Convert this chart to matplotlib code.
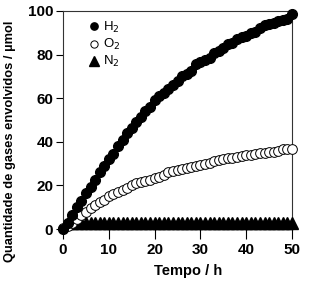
import matplotlib
matplotlib.use('Agg')
from matplotlib import pyplot as plt

plt.rcParams['font.family'] = ['Liberation Sans', 'DejaVu Sans']

# tempo (h)
t = list(range(0, 51))

h2 = [0, 3, 6.5, 10, 13, 16.5, 19.5, 22.5, 26, 29,
      32, 34.5, 38, 41, 44, 46.5, 49, 51.5, 54, 56,
      59, 61, 62.5, 64, 66, 68, 70, 71, 72.5, 75.5,
      76.5, 77.5, 78.5, 80.5, 81.5, 83, 85, 85.5, 87, 88,
      88.5, 90, 90.5, 92, 93.5, 94, 94.5, 95.5, 96, 96.5,
      98.5]

o2 = [0.5, 1.5, 3, 4.5, 6.5, 8, 9.5, 11, 12.5, 13.5,
      15, 16, 17, 18, 19, 20, 21, 21.5, 22, 22.5,
      23.5, 24, 25, 26, 26.5, 27, 27.5, 28, 28.5, 29,
      29.5, 30, 30.5, 31, 31.5, 32, 32.5, 32.5, 33, 33.5,
      34, 34, 34.5, 35, 35, 35.5, 35.5, 36, 36.5, 36.5,
      36.5]

t_n2 = list(range(1, 51))
n2 = [2.8, 2.8, 2.7, 2.8, 2.8, 2.7, 2.8, 2.8, 2.8, 2.7,
      2.8, 2.8, 2.8, 2.7, 2.8, 2.8, 2.8, 2.8, 2.7, 2.8,
      2.8, 2.8, 2.7, 2.8, 2.8, 2.8, 2.8, 2.7, 2.8, 2.8,
      2.8, 2.7, 2.8, 2.8, 2.8, 2.8, 2.7, 2.8, 2.8, 2.8,
      2.7, 2.8, 2.8, 2.8, 2.8, 2.7, 2.8, 2.8, 2.8, 2.8]

fig = plt.figure(figsize=(3.09, 2.86), dpi=100)
ax = fig.add_axes([0.204, 0.199, 0.741, 0.763])

ax.plot(t_n2, n2, '^', color='black', markersize=9, label='N$_2$', clip_on=False, zorder=3)
ax.plot(t, o2, 'o', markerfacecolor='white', markeredgecolor='black', markeredgewidth=0.7,
        markersize=7, label='O$_2$', clip_on=False, zorder=4)
ax.plot(t, h2, 'o', color='black', markersize=7, label='H$_2$', clip_on=False, zorder=5)

ax.set_xlim(0, 50)
ax.set_ylim(0, 100)
ax.set_xticks([0, 10, 20, 30, 40, 50])
ax.set_yticks([0, 20, 40, 60, 80, 100])
ax.tick_params(direction='out', width=0.8, labelsize=11, pad=2)
ax.tick_params(axis='x', length=7, pad=3)
ax.tick_params(axis='y', length=5)
for lbl in ax.get_xticklabels() + ax.get_yticklabels():
    lbl.set_fontweight('bold')
for s in ax.spines.values():
    s.set_linewidth(0.8)
    s.set_color('#333333')

ax.set_xlabel('Tempo / h', fontsize=10.5, fontweight='bold')
ax.xaxis.set_label_coords(0.546, -0.16)
ax.set_ylabel('Quantidade de gases envolvidos / µmol', fontsize=9.3, fontweight='bold')
ax.yaxis.set_label_coords(-0.205, 0.40)

handles, labels = ax.get_legend_handles_labels()
leg = ax.legend(handles[::-1], labels[::-1], loc='upper left', frameon=False, fontsize=9.5,
                handletextpad=0.1, labelspacing=0.15, borderaxespad=0.3, handlelength=1.2,
                bbox_to_anchor=(0.06, 1.0), markerscale=0.75)

fig.savefig('out.png', dpi=100)
